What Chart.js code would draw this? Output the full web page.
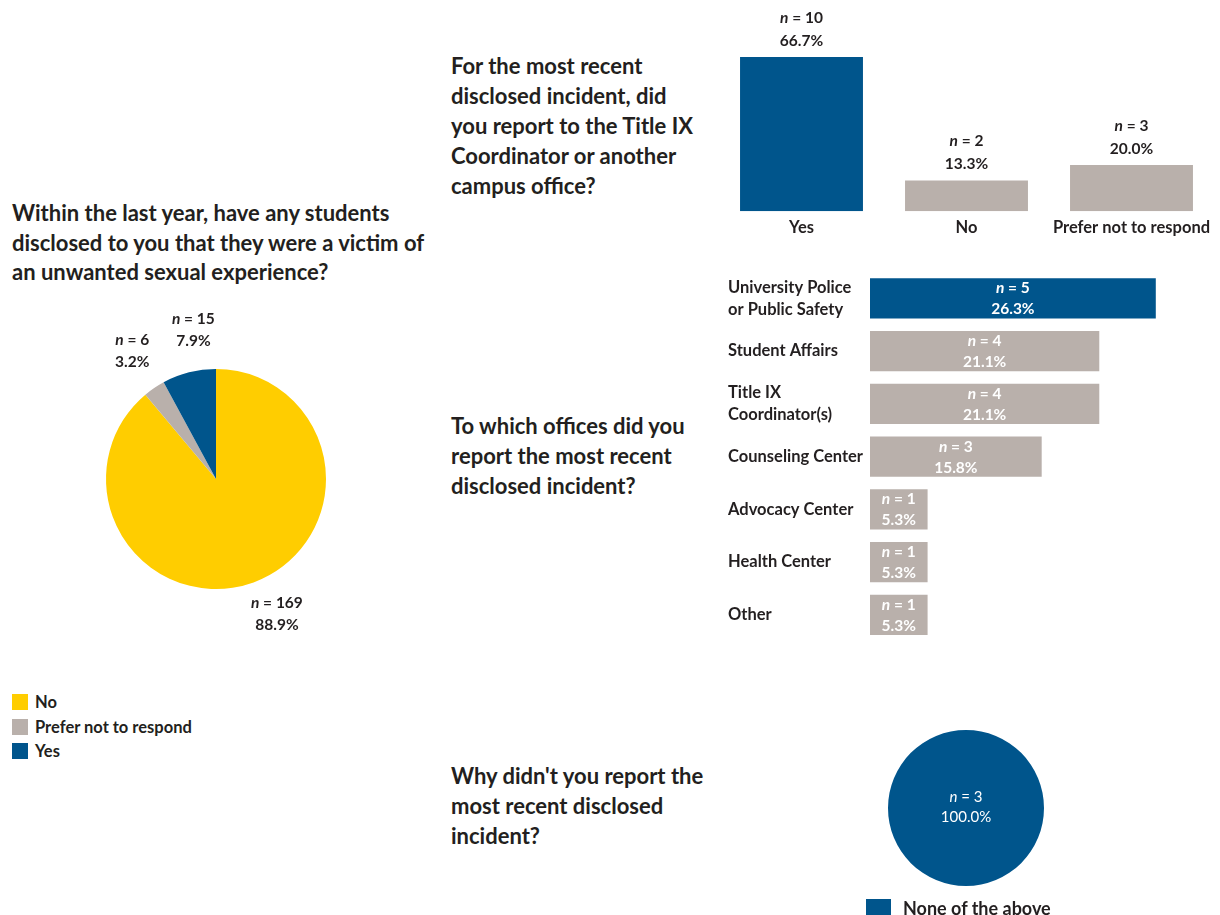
<!DOCTYPE html>
<html>
<head>
<meta charset="utf-8">
<script src="https://cdn.jsdelivr.net/npm/chart.js@4.4.1/dist/chart.umd.min.js"></script>
<style>
  body { margin: 0; background: #fff; width: 1220px; height: 915px; overflow: hidden; position: relative; font-family: Lato, sans-serif; color: #231f20; }
  .q { position: absolute; margin: 0; font-size: 22px; font-weight: 700; line-height: 30px; }
  canvas { position: absolute; }
  .legend { position: absolute; font-size: 16.5px; font-weight: 700; }
  .legend div { display: flex; align-items: center; height: 24.5px; }
  .legend span { display: inline-block; width: 16px; height: 16px; margin-right: 7px; }
</style>
</head>
<body>
<p class="q" style="left:12px; top:198px; line-height:29.5px;">Within the last year, have any students<br>disclosed to you that they were a victim of<br>an unwanted sexual experience?</p>
<p class="q" style="left:451px; top:51px;">For the most recent<br>disclosed incident, did<br>you report to the Title IX<br>Coordinator or another<br>campus office?</p>
<p class="q" style="left:451px; top:411px;">To which offices did you<br>report the most recent<br>disclosed incident?</p>
<p class="q" style="left:451px; top:761px;">Why didn't you report the<br>most recent disclosed<br>incident?</p>

<canvas id="disclosedChart" width="430" height="360" style="left:0; top:300px;"></canvas>
<div class="legend" id="disclosedLegend" style="left:12px; top:690px;"></div>

<canvas id="reportChart" width="520" height="250" style="left:700px; top:0;"></canvas>
<canvas id="officeChart" width="520" height="403" style="left:700px; top:260px;"></canvas>

<canvas id="whyChart" width="212" height="195" style="left:860px; top:720px;"></canvas>
<div class="legend" id="whyLegend" style="left:866px; top:896px; font-size:18px;"></div>

<script>
const BLUE = '#00558c';
const YELLOW = '#ffcd00';
const GRAY = '#b9b0ab';
const INK = '#231f20';

// Disclosures in the last year
const disclosedLabels = ['No', 'Prefer not to respond', 'Yes'];
const disclosedCounts = [169, 6, 15];
const disclosedPct = [88.9, 3.2, 7.9];
const disclosedColors = [YELLOW, GRAY, BLUE];

// Reported to Title IX / campus office
const reportedLabels = ['Yes', 'No', 'Prefer not to respond'];
const reportedCounts = [10, 2, 3];
const reportedPct = [66.7, 13.3, 20.0];
const reportedColors = [BLUE, GRAY, GRAY];

// Offices reported to
const officeLabels = [['University Police', 'or Public Safety'], 'Student Affairs', ['Title IX', 'Coordinator(s)'], 'Counseling Center', 'Advocacy Center', 'Health Center', 'Other'];
const officeCounts = [5, 4, 4, 3, 1, 1, 1];
const officePct = [26.3, 21.1, 21.1, 15.8, 5.3, 5.3, 5.3];
const officeColors = [BLUE, GRAY, GRAY, GRAY, GRAY, GRAY, GRAY];

// Reasons for not reporting
const whyLabels = ['None of the above'];
const whyCounts = [3];
const whyPct = [100.0];
const whyColors = [BLUE];

Chart.defaults.font.family = 'Lato, sans-serif';
Chart.defaults.color = INK;

// "n = 10" with an italic n, centred on x
function drawN(ctx, x, y, count, color, size, weight) {
  const rest = ' = ' + count;
  ctx.font = `italic ${weight} ${size}px Lato`;
  const w1 = ctx.measureText('n').width;
  ctx.font = `${weight} ${size}px Lato`;
  const w2 = ctx.measureText(rest).width;
  const start = x - (w1 + w2) / 2;
  ctx.textAlign = 'left';
  ctx.textBaseline = 'middle';
  ctx.fillStyle = color;
  ctx.font = `italic ${weight} ${size}px Lato`;
  ctx.fillText('n', start, y);
  ctx.font = `${weight} ${size}px Lato`;
  ctx.fillText(rest, start + w1, y);
}

function drawPct(ctx, x, y, pct, color, size, weight) {
  ctx.font = `${weight} ${size}px Lato`;
  ctx.textAlign = 'center';
  ctx.textBaseline = 'middle';
  ctx.fillStyle = color;
  ctx.fillText(pct.toFixed(1) + '%', x, y);
}

function makeLegend(id, labels, colors) {
  const box = document.getElementById(id);
  labels.forEach((l, i) => {
    const row = document.createElement('div');
    row.innerHTML = `<span style="background:${colors[i]}"></span>${l}`;
    box.appendChild(row);
  });
}

// labels outside the pie slices
const pieOutsideLabels = {
  id: 'pieOutsideLabels',
  afterDraw(chart) {
    const ctx = chart.ctx;
    const meta = chart.getDatasetMeta(0);
    meta.data.forEach((arc, i) => {
      const p = arc.getProps(['x', 'y', 'startAngle', 'endAngle', 'outerRadius'], true);
      const mid = (p.startAngle + p.endAngle) / 2;
      const d = p.outerRadius + 39;
      // nudge sideways a little so the two small-slice labels don't crowd
      const lx = p.x + Math.cos(mid) * d + (Math.cos(mid) > 0 ? 10 : 0) + (i === meta.data.length - 1 ? 14 : 0);
      const ly = p.y + Math.sin(mid) * d - 5;
      drawN(ctx, lx, ly - 11, disclosedCounts[i], INK, 15.5, 700);
      drawPct(ctx, lx, ly + 11, disclosedPct[i], INK, 15.5, 700);
    });
  }
};

new Chart(document.getElementById('disclosedChart'), {
  type: 'pie',
  data: {
    labels: disclosedLabels,
    datasets: [{ data: disclosedPct, backgroundColor: disclosedColors, borderWidth: 0 }]
  },
  options: {
    responsive: false,
    animation: false,
    layout: { padding: { left: 106, right: 104, top: 69, bottom: 71 } },
    plugins: { legend: { display: false }, tooltip: { enabled: false } }
  },
  plugins: [pieOutsideLabels]
});
makeLegend('disclosedLegend', disclosedLabels, disclosedColors);

// values above the vertical bars
const barTopLabels = {
  id: 'barTopLabels',
  afterDraw(chart) {
    const ctx = chart.ctx;
    chart.getDatasetMeta(0).data.forEach((bar, i) => {
      drawN(ctx, bar.x, bar.y - 39, reportedCounts[i], INK, 15.5, 700);
      drawPct(ctx, bar.x, bar.y - 16, reportedPct[i], INK, 15.5, 700);
    });
  }
};

new Chart(document.getElementById('reportChart'), {
  type: 'bar',
  data: {
    labels: reportedLabels,
    datasets: [{ data: reportedPct, backgroundColor: reportedColors, barPercentage: 0.745, categoryPercentage: 1 }]
  },
  options: {
    responsive: false,
    animation: false,
    layout: { padding: { top: 57, left: 19, right: 6, bottom: 5 } },
    plugins: { legend: { display: false }, tooltip: { enabled: false } },
    scales: {
      x: {
        grid: { display: false, drawTicks: false },
        border: { display: false },
        ticks: { padding: 7, color: INK, maxRotation: 0, minRotation: 0, autoSkip: false, font: { size: 16.5, weight: 'bold' } }
      },
      y: { display: false, min: 0, max: 66.7 }
    }
  },
  plugins: [barTopLabels]
});

// values inside the horizontal bars
const barInsideLabels = {
  id: 'barInsideLabels',
  afterDraw(chart) {
    const ctx = chart.ctx;
    chart.getDatasetMeta(0).data.forEach((bar, i) => {
      const cx = (bar.base + bar.x) / 2;
      drawN(ctx, cx, bar.y - 10, officeCounts[i], '#fff', 15.5, 700);
      drawPct(ctx, cx, bar.y + 11, officePct[i], '#fff', 15.5, 700);
    });
  }
};

new Chart(document.getElementById('officeChart'), {
  type: 'bar',
  data: {
    labels: officeLabels,
    datasets: [{ data: officePct, backgroundColor: officeColors, barPercentage: 0.76, categoryPercentage: 1 }]
  },
  options: {
    indexAxis: 'y',
    responsive: false,
    animation: false,
    layout: { padding: { top: 12, bottom: 10, left: 28, right: 24 } },
    plugins: { legend: { display: false }, tooltip: { enabled: false } },
    scales: {
      x: { display: false, min: 0, max: 30 },
      y: {
        grid: { display: false, drawTicks: false },
        border: { display: false },
        ticks: { crossAlign: 'far', padding: 0, color: INK, autoSkip: false, font: { size: 16.5, weight: 'bold', lineHeight: 1.32 } },
        afterFit(scale) { scale.width = 142; }
      }
    }
  },
  plugins: [barInsideLabels]
});

// single-slice pie with its value in the middle
const pieCenterLabel = {
  id: 'pieCenterLabel',
  afterDraw(chart) {
    const ctx = chart.ctx;
    const arc = chart.getDatasetMeta(0).data[0];
    drawN(ctx, arc.x, arc.y - 11, whyCounts[0], '#fff', 15, 400);
    drawPct(ctx, arc.x, arc.y + 9, whyPct[0], '#fff', 15, 400);
  }
};

new Chart(document.getElementById('whyChart'), {
  type: 'pie',
  data: {
    labels: whyLabels,
    datasets: [{ data: whyPct, backgroundColor: whyColors, borderWidth: 0 }]
  },
  options: {
    responsive: false,
    animation: false,
    layout: { padding: { left: 28, right: 28, top: 10, bottom: 29 } },
    plugins: { legend: { display: false }, tooltip: { enabled: false } }
  },
  plugins: [pieCenterLabel]
});
makeLegend('whyLegend', whyLabels, whyColors);
document.querySelector('#whyLegend span').style.cssText += 'width:25px;height:19px;margin-right:12px;';
</script>
</body>
</html>
